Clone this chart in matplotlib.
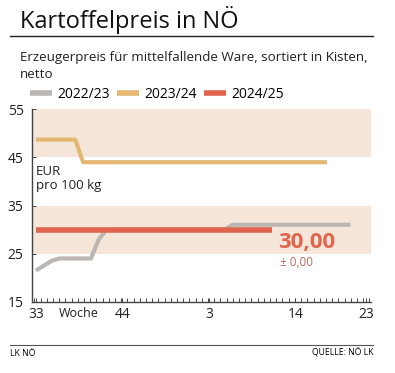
import matplotlib.pyplot as plt
import numpy as np
from matplotlib.lines import Line2D

# Week index 0 = calendar week 33
weeks_2223 = [0, 2, 3, 7, 8, 9, 24, 25, 40]
price_2223 = [21.5, 23.5, 24, 24, 28, 30, 30, 31, 31]
weeks_2324 = [0, 5, 6, 37]
price_2324 = [48.7, 48.7, 44, 44]
weeks_2425 = [0, 30]
price_2425 = [30, 30]

series_labels = ['2022/23', '2023/24', '2024/25']
series_colors = ['#bdb7b4', '#e5b872', '#e0654c']

xtick_pos = [0, 11, 22, 33, 42]
xtick_labels = ['33', '44', '3', '14', '23']
yticks = [15, 25, 35, 45, 55]
bands = [(25, 35), (45, 55)]

plt.rcParams['font.family'] = ['Open Sans', 'DejaVu Sans']

fig = plt.figure(figsize=(3.95, 3.73), dpi=100)
ax = fig.add_axes([0.081, 0.191, 0.858, 0.516])

xmin, xmax = -0.5, 42.6
for lo, hi in bands:
    ax.axhspan(lo, hi, color='#f5e6d9', lw=0, zorder=0)

ax.plot(weeks_2223, price_2223, color=series_colors[0], lw=3.0, solid_capstyle='butt', zorder=2)
ax.plot(weeks_2324, price_2324, color=series_colors[1], lw=3.0, solid_capstyle='butt', zorder=3)
ax.plot(weeks_2425, price_2425, color=series_colors[2], lw=4.0, solid_capstyle='butt', zorder=4)

ax.set_xlim(xmin, xmax)
ax.set_ylim(15, 55)
ax.set_yticks(yticks)
ax.set_xticks(xtick_pos)
ax.set_xticklabels(xtick_labels)
ax.set_xticks(np.linspace(xmin + 0.3, xmax - 0.2, 55), minor=True)
for s in ['top', 'right']:
    ax.spines[s].set_visible(False)
for s in ['left', 'bottom']:
    ax.spines[s].set_color('#444444')
    ax.spines[s].set_linewidth(1.0)
ax.tick_params(axis='both', which='both', direction='in', length=3, width=0.7, color='#444444',
               labelsize=10, labelcolor='#222222')
ax.tick_params(axis='y', pad=6)
ax.tick_params(axis='x', pad=4)

ax.annotate('Woche', xy=(5.5, 15), xytext=(0, -4), textcoords='offset points',
            ha='center', va='top', fontsize=9, color='#222222')

ax.text(0, 43.5, 'EUR\npro 100 kg', ha='left', va='top', fontsize=9.5, color='#222222',
        linespacing=1.1)

ax.text(30.8, 27.4, '30,00', ha='left', va='center', fontsize=16, fontweight='bold',
        color='#e0654c')
ax.text(31.0, 23.2, '± 0,00', ha='left', va='center', fontsize=8.5, color='#c06a5a')

# legend
handles = [Line2D([], [], color=c, lw=4, solid_capstyle='butt') for c in series_colors]
fig.legend(handles, series_labels, loc='center left', bbox_to_anchor=(0.075, 1 - 94 / 373),
           ncol=3, frameon=False, fontsize=10, handlelength=1.6, handletextpad=0.4,
           columnspacing=0.5, borderaxespad=0, borderpad=0)

# title and subtitle
fig.text(20 / 395, 1 - 20 / 373, 'Kartoffelpreis in NÖ', ha='left', va='center', fontsize=17,
         color='#111111')
fig.add_artist(Line2D([10 / 395, 373 / 395], [1 - 36 / 373] * 2, color='#222222', lw=1))
fig.text(20 / 395, 1 - 66 / 373, 'Erzeugerpreis für mittelfallende Ware, sortiert in Kisten,\nnetto',
         ha='left', va='center', fontsize=9.6, color='#222222', linespacing=1.35)

# footer
fig.add_artist(Line2D([10 / 395, 373 / 395], [1 - 344.7 / 373] * 2, color='#555555', lw=0.8))
fig.text(10 / 395, 1 - 353 / 373, 'LK NÖ', ha='left', va='center', fontsize=6.2)
fig.text(373 / 395, 1 - 353 / 373, 'QUELLE: NÖ LK', ha='right', va='center', fontsize=6.2)

fig.savefig('out.png', dpi=100)
